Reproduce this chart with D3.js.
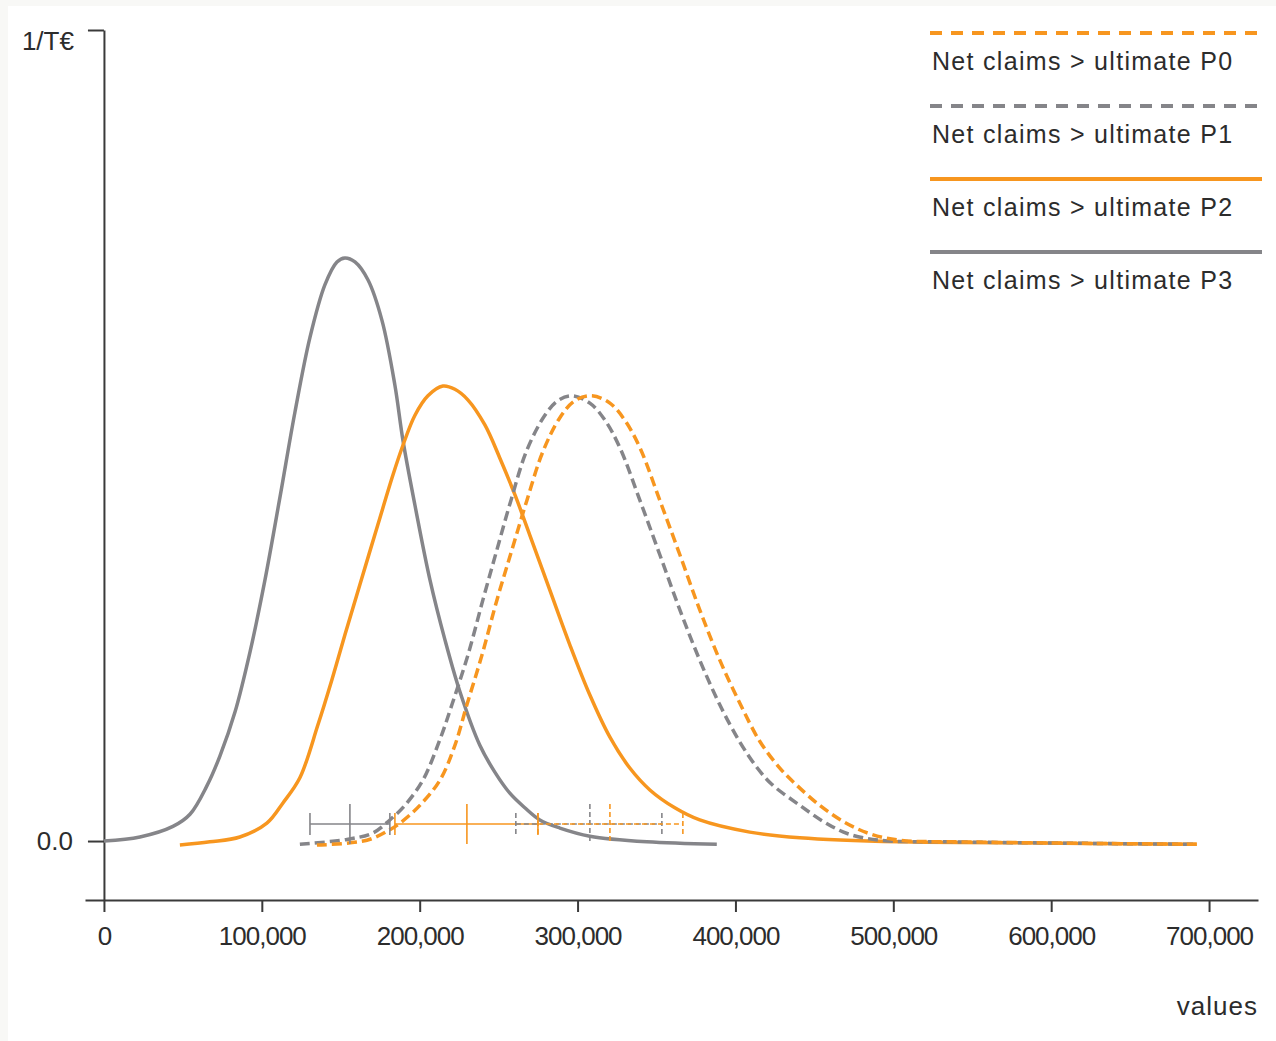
<!DOCTYPE html>
<html>
<head>
<meta charset="utf-8">
<script src="https://cdn.jsdelivr.net/npm/d3@7"></script>
<style>
  html, body { margin: 0; padding: 0; background: #f8f8f6; }
  svg { display: block; }
  text { font-family: "Liberation Sans", Arial, sans-serif; fill: #2c2c2c; }
</style>
</head>
<body>
<svg id="chart" width="1276" height="1041"></svg>
<script>
// ---------- data ----------
const seriesNames = ["Net claims > ultimate P0", "Net claims > ultimate P1", "Net claims > ultimate P2", "Net claims > ultimate P3"];

// x values in €, y values in density units (axis top = 10)
const p0X = [134900,166600,181100,187500,200100,212800,222300,229900,239400,248900,258400,267900,278000,288800,298300,309100,320500,329900,339500,352100,364800,377400,390100,402800,415400,428100,438200,453400,469300,485100,504100,542100,692200];
const p0Y = [-0.05,0.01,0.14,0.22,0.44,0.75,1.18,1.68,2.29,2.97,3.59,4.20,4.80,5.22,5.43,5.49,5.40,5.19,4.85,4.20,3.53,2.85,2.23,1.70,1.23,0.90,0.70,0.44,0.23,0.09,0.01,-0.01,-0.04];

const p1X = [124100,153900,170400,181100,190600,202000,212800,220400,230500,240000,248900,257800,267900,279300,287500,296400,307800,317300,326800,339500,352100,364800,377400,390100,402800,413500,423000,440800,456600,471200,491400,535800,692200];
const p1Y = [-0.04,0.02,0.10,0.26,0.44,0.75,1.25,1.68,2.29,2.97,3.59,4.20,4.82,5.25,5.43,5.49,5.40,5.19,4.85,4.20,3.53,2.85,2.23,1.68,1.22,0.91,0.70,0.44,0.23,0.09,0.01,-0.01,-0.04];

const p2X = [48100,67100,86100,103200,113400,124100,135500,144400,152600,162100,173500,183000,189400,197000,205200,214700,222300,230500,241300,250800,260300,269800,282500,295100,307800,320500,333100,345800,361600,377400,409100,440800,504100,567400,692200];
const p2Y = [-0.05,-0.01,0.05,0.22,0.47,0.78,1.43,1.99,2.54,3.16,3.90,4.51,4.88,5.25,5.49,5.61,5.57,5.44,5.13,4.72,4.27,3.77,3.09,2.42,1.80,1.28,0.90,0.63,0.41,0.26,0.11,0.04,-0.01,-0.02,-0.04];

const p3X = [0,22800,43700,54500,65200,73500,83000,92500,102000,111500,121000,130500,140000,147600,152600,159000,167200,176100,184300,189400,197000,206500,216000,225500,238100,247600,257100,266600,276100,288800,307800,343900,388200];
const p3Y = [0,0.05,0.18,0.33,0.68,1.05,1.59,2.33,3.22,4.24,5.29,6.21,6.86,7.14,7.19,7.14,6.92,6.42,5.62,4.94,4.14,3.22,2.48,1.84,1.18,0.85,0.59,0.41,0.26,0.16,0.06,-0.01,-0.04];

// quantile markers [low, middle, high] per series
const p0Marks = [274900, 320500, 366700];
const p1Marks = [260900, 307800, 353400];
const p2Marks = [184300, 229900, 274900];
const p3Marks = [130500, 155800, 181100];

const xTickValues = [0, 100000, 200000, 300000, 400000, 500000, 600000, 700000];
const yTickValues = [0, 10];
const yTickLabels = ["0.0", ""];
const yUnitLabel = "1/T€";
const xAxisLabel = "values";

// ---------- styling ----------
const ORANGE = "#f7961f";
const GRAY = "#858589";
const styles = [
  {color: ORANGE, dash: "10,5", mdash: "5,3"},
  {color: GRAY,   dash: "10,5", mdash: "5,3"},
  {color: ORANGE, dash: null,  mdash: null},
  {color: GRAY,   dash: null,  mdash: null}
];
const curves = [
  {x: p0X, y: p0Y, m: p0Marks},
  {x: p1X, y: p1Y, m: p1Marks},
  {x: p2X, y: p2Y, m: p2Marks},
  {x: p3X, y: p3Y, m: p3Marks}
];

const svg = d3.select("#chart");
svg.append("rect").attr("x", 8).attr("y", 6).attr("width", 1268).attr("height", 1035).attr("fill", "#fff");

const x = d3.scaleLinear().domain([-12000, 731000]).range([85, 1258]);
const y = d3.scaleLinear().domain([-0.727, 10]).range([900, 30]);

// x axis
const xAxis = svg.append("g").attr("transform", `translate(0,${y(-0.727)})`)
  .call(d3.axisBottom(x).tickValues(xTickValues).tickSize(12).tickSizeOuter(0)
    .tickFormat(d => d3.format(",")(d)));
xAxis.select(".domain").attr("stroke", "#3a3a3a").attr("stroke-width", 2);
xAxis.selectAll(".tick line").attr("stroke", "#3a3a3a").attr("stroke-width", 2);
xAxis.selectAll(".tick text").attr("font-size", 26).attr("dy", "1.15em")
  .style("letter-spacing", "-1px").attr("fill", "#2c2c2c")
  .style("font-family", "'Liberation Sans', Arial, sans-serif");

// y axis
const yAxis = svg.append("g").attr("transform", `translate(${x(0)},0)`)
  .call(d3.axisLeft(y).tickValues(yTickValues).tickSize(16).tickSizeOuter(0)
    .tickFormat((d, i) => yTickLabels[i]));
yAxis.select(".domain").attr("stroke", "#3a3a3a").attr("stroke-width", 2);
yAxis.selectAll(".tick line").attr("stroke", "#3a3a3a").attr("stroke-width", 2);
yAxis.selectAll(".tick text").attr("font-size", 26).attr("x", -31).attr("fill", "#2c2c2c")
  .style("font-family", "'Liberation Sans', Arial, sans-serif");

svg.append("text").attr("x", x(0) - 30).attr("y", y(10) + 20).attr("text-anchor", "end")
  .attr("font-size", 26).text(yUnitLabel);
svg.append("text").attr("x", 1258).attr("y", 1015).attr("text-anchor", "end")
  .attr("font-size", 26).style("letter-spacing", "1px").text(xAxisLabel);

// curves
const line = d3.line().x(d => x(d[0])).y(d => y(d[1])).curve(d3.curveCatmullRom.alpha(0.5));
const drawOrder = [3, 2, 1, 0];
drawOrder.forEach(i => {
  const c = curves[i], s = styles[i];
  const pts = c.x.map((v, k) => [v, c.y[k]]);
  svg.append("path").datum(pts).attr("d", line)
    .attr("fill", "none").attr("stroke", s.color).attr("stroke-width", 3.5)
    .attr("stroke-dasharray", s.dash).attr("stroke-linecap", "butt");
});

// quantile markers
const markY = y(0) - 17;
drawOrder.forEach(i => {
  const c = curves[i], s = styles[i];
  const g = svg.append("g").attr("stroke", s.color).attr("stroke-width", 1.6)
    .attr("stroke-dasharray", s.mdash).attr("fill", "none");
  g.append("line").attr("x1", x(c.m[0])).attr("x2", x(c.m[2])).attr("y1", markY).attr("y2", markY);
  c.m.forEach((v, k) => {
    const h = k === 1 ? 20 : 11;
    g.append("line").attr("x1", x(v)).attr("x2", x(v)).attr("y1", markY - h).attr("y2", markY + h);
  });
});

// legend
const legendTop = 33, legendStep = 73;
seriesNames.forEach((name, i) => {
  const s = styles[i];
  const ly = legendTop + i * legendStep;
  svg.append("line").attr("x1", 930).attr("x2", 1262).attr("y1", ly).attr("y2", ly)
    .attr("stroke", s.color).attr("stroke-width", 4).attr("stroke-dasharray", s.dash ? "12,9" : null);
  svg.append("text").attr("x", 932).attr("y", ly + 37).attr("font-size", 25)
    .style("letter-spacing", "1.3px").text(name);
});
</script>
</body>
</html>
